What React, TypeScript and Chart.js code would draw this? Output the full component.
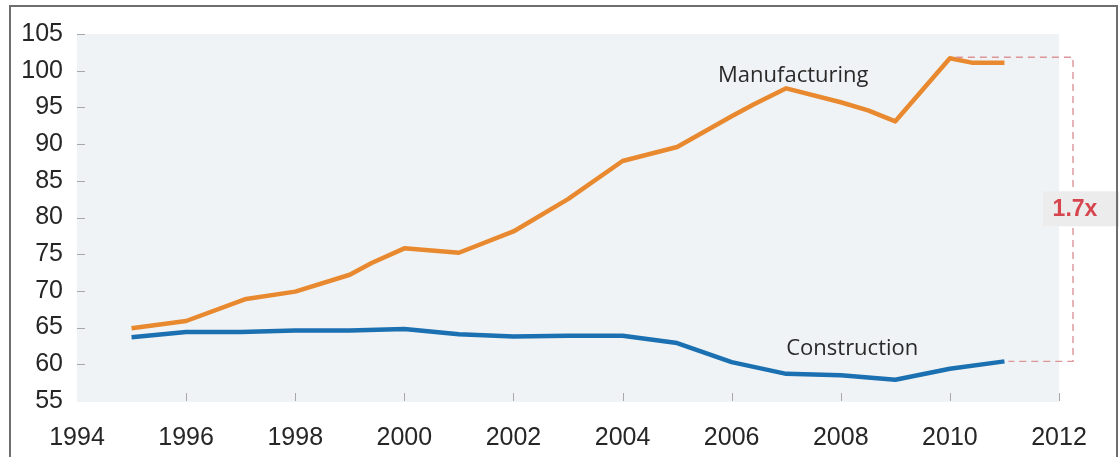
import React, { useEffect, useRef } from "react";
import { Chart, registerables } from "chart.js";

Chart.register(...registerables);

// ---- data ----
const manufacturingYears = [1995, 1996, 1997.1, 1998, 1999, 1999.4, 2000, 2001, 2002, 2003, 2004, 2005, 2006, 2006.4, 2007, 2008, 2008.5, 2009, 2010, 2010.4, 2011];
const manufacturingValues = [64.9, 65.9, 68.9, 69.9, 72.2, 73.8, 75.8, 75.2, 78.1, 82.5, 87.7, 89.6, 93.8, 95.4, 97.6, 95.7, 94.6, 93.1, 101.7, 101.1, 101.1];

const constructionYears = [1995, 1996, 1997, 1998, 1999, 2000, 2001, 2002, 2003, 2004, 2005, 2006, 2007, 2008, 2009, 2010, 2011];
const constructionValues = [63.7, 64.4, 64.4, 64.6, 64.6, 64.8, 64.1, 63.8, 63.9, 63.9, 62.9, 60.3, 58.7, 58.5, 57.9, 59.4, 60.4];

const xTickValues = [1994, 1996, 1998, 2000, 2002, 2004, 2006, 2008, 2010, 2012];
const yTickValues = [55, 60, 65, 70, 75, 80, 85, 90, 95, 100, 105];

const seriesNames = ["Manufacturing", "Construction"];
const ratioText = "1.7x";
// label anchor positions in data units (year, value)
const manufacturingLabelAt = [2005.75, 98.4];
const constructionLabelAt = [2007.0, 61.3];

const ORANGE = "#e8892f";
const BLUE = "#1b70b1";

const annotationPlugin = {
  id: "refAnnotations",
  beforeDatasetsDraw(chart: any) {
    const { ctx, chartArea, scales } = chart;
    const { left, right, top, bottom } = chartArea;
    ctx.save();
    ctx.fillStyle = "#f0f3f5";
    ctx.fillRect(left, top, right - left, bottom - top + 1);
    // small tick marks inside plot
    ctx.strokeStyle = "#a8a8a8";
    ctx.lineWidth = 1;
    xTickValues.forEach((v) => {
      if (v === xTickValues[0]) return;
      const x = Math.round(scales.x.getPixelForValue(v)) + 0.5;
      ctx.beginPath();
      ctx.moveTo(x, bottom - 8);
      ctx.lineTo(x, bottom);
      ctx.stroke();
    });
    yTickValues.forEach((v) => {
      if (v === yTickValues[0]) return;
      const y = Math.round(scales.y.getPixelForValue(v)) + 0.5;
      ctx.beginPath();
      ctx.moveTo(left, y);
      ctx.lineTo(left + 8, y);
      ctx.stroke();
    });
    ctx.restore();
  },
  afterDraw(chart: any) {
    const { ctx, scales, width, height } = chart;
    const xs = scales.x;
    const ys = scales.y;
    ctx.save();
    // dashed bracket
    const mPeak = Math.max(...manufacturingValues);
    const mPeakYear = manufacturingYears[manufacturingValues.indexOf(mPeak)];
    const cEnd = constructionValues[constructionValues.length - 1];
    const cEndYear = constructionYears[constructionYears.length - 1];
    const bx = xs.getPixelForValue(2012) + 14;
    const yTop = ys.getPixelForValue(mPeak) - 1;
    const yBot = ys.getPixelForValue(cEnd);
    ctx.strokeStyle = "#dc9598";
    ctx.lineWidth = 1.4;
    ctx.setLineDash([7, 5]);
    ctx.beginPath();
    ctx.moveTo(xs.getPixelForValue(mPeakYear) + 6, yTop);
    ctx.lineTo(bx, yTop);
    ctx.lineTo(bx, yBot);
    ctx.lineTo(xs.getPixelForValue(cEndYear) + 4, yBot);
    ctx.stroke();
    ctx.setLineDash([]);

    // ratio label box
    const midY = (yTop + yBot) / 2;
    ctx.fillStyle = "#ececec";
    ctx.fillRect(bx - 30, midY - 18, 80, 35);
    ctx.fillStyle = "#d6464f";
    ctx.font = "bold 23px 'Liberation Sans', Arial, sans-serif";
    ctx.textAlign = "center";
    ctx.textBaseline = "middle";
    ctx.fillText(ratioText, bx + 2, midY);

    // series labels
    ctx.fillStyle = "#2a2a2a";
    ctx.font = "22px 'Open Sans', sans-serif";
    ctx.textAlign = "left";
    ctx.textBaseline = "alphabetic";
    ctx.fillText(seriesNames[0], xs.getPixelForValue(manufacturingLabelAt[0]), ys.getPixelForValue(manufacturingLabelAt[1]));
    ctx.fillText(seriesNames[1], xs.getPixelForValue(constructionLabelAt[0]), ys.getPixelForValue(constructionLabelAt[1]));

    // frame
    ctx.strokeStyle = "#6e6e6e";
    ctx.lineWidth = 2;
    ctx.beginPath();
    ctx.moveTo(10, height + 5);
    ctx.lineTo(10, 6);
    ctx.lineTo(width - 2, 6);
    ctx.lineTo(width - 2, height + 5);
    ctx.stroke();
    ctx.restore();
  },
};

export default function App() {
  const canvasRef = useRef<HTMLCanvasElement | null>(null);

  useEffect(() => {
    document.body.style.margin = "0";
    const canvas = canvasRef.current;
    if (!canvas) return;
    const chart = new Chart(canvas, {
      type: "line",
      data: {
        datasets: [
          {
            label: seriesNames[0],
            data: manufacturingYears.map((x, i) => ({ x, y: manufacturingValues[i] })),
            borderColor: ORANGE,
            borderWidth: 4.5,
            pointRadius: 0,
            tension: 0,
            borderJoinStyle: "round",
          },
          {
            label: seriesNames[1],
            data: constructionYears.map((x, i) => ({ x, y: constructionValues[i] })),
            borderColor: BLUE,
            borderWidth: 4.5,
            pointRadius: 0,
            tension: 0,
            borderJoinStyle: "round",
          },
        ],
      },
      options: {
        responsive: false,
        animation: false,
        events: [],
        layout: { padding: { top: 34, right: 60, left: 0, bottom: 0 } },
        plugins: { legend: { display: false }, tooltip: { enabled: false } },
        scales: {
          x: {
            type: "linear",
            min: 1994,
            max: 2012,
            afterBuildTicks: (axis: any) => {
              axis.ticks = xTickValues.map((v) => ({ value: v }));
            },
            afterFit: (axis: any) => {
              axis.height = 56;
            },
            grid: { display: false, drawTicks: false },
            border: { display: false },
            ticks: {
              autoSkip: false,
              maxRotation: 0,
              padding: 22,
              color: "#262626",
              font: { family: "'Liberation Sans', Arial, sans-serif", size: 25 },
              callback: (v: any) => String(v),
            },
          },
          y: {
            min: 55,
            max: 105,
            afterBuildTicks: (axis: any) => {
              axis.ticks = yTickValues.map((v) => ({ value: v }));
            },
            afterFit: (axis: any) => {
              axis.width = 77;
            },
            grid: { display: false, drawTicks: false },
            border: { display: false },
            ticks: {
              padding: 14,
              color: "#262626",
              font: { family: "'Liberation Sans', Arial, sans-serif", size: 25 },
              callback: (v: any) => String(v),
            },
          },
        },
      },
      plugins: [annotationPlugin],
    } as any);
    return () => chart.destroy();
  }, []);

  return (
    <div style={{ width: 1119, height: 457, position: "relative", background: "#fff" }}>
      <canvas ref={canvasRef} width={1119} height={457} style={{ display: "block" }} />
    </div>
  );
}
